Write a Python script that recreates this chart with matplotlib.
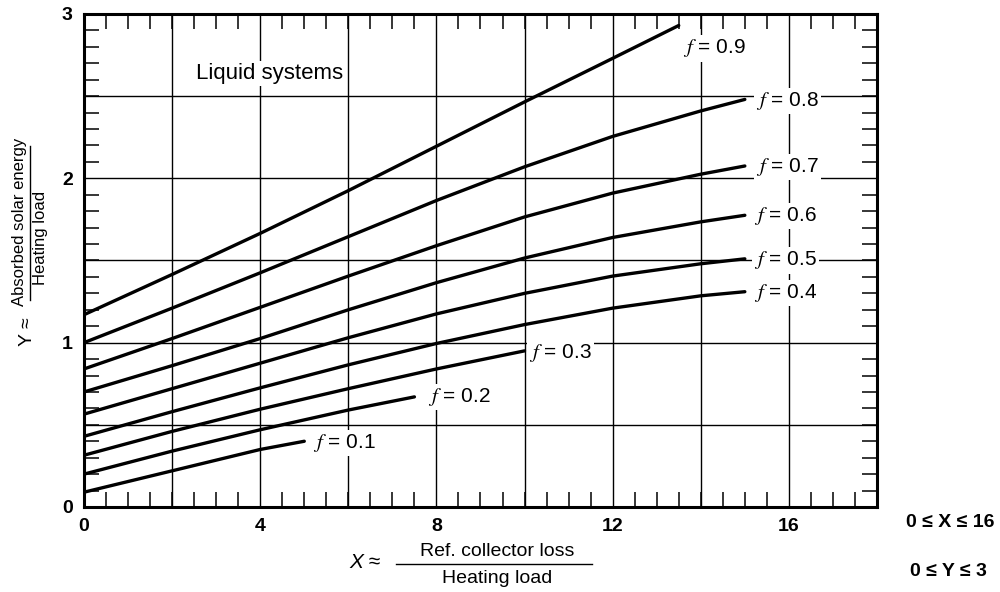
import matplotlib
matplotlib.use("Agg")
import matplotlib.pyplot as plt
from matplotlib.lines import Line2D
from matplotlib.ticker import MultipleLocator

plt.rcParams['font.family'] = ['Liberation Sans', 'DejaVu Sans']
plt.rcParams['mathtext.fontset'] = 'stix'

# Curvas f-chart (sistemas líquidos)
x_long = [0, 2, 4, 6, 8, 10, 12, 14, 15]
x_09 = [0, 2, 4, 6, 8, 10, 12, 13.5]
x_03 = [0, 2, 4, 6, 8, 10]
x_02 = [0, 2, 4, 6, 7.5]
x_01 = [0, 2, 4, 5]

y_09 = [1.17, 1.415, 1.665, 1.925, 2.195, 2.465, 2.73, 2.93]
y_08 = [1.00, 1.21, 1.425, 1.645, 1.865, 2.07, 2.255, 2.41, 2.48]
y_07 = [0.84, 1.025, 1.215, 1.405, 1.59, 1.765, 1.91, 2.025, 2.075]
y_06 = [0.70, 0.86, 1.025, 1.20, 1.365, 1.515, 1.64, 1.735, 1.775]
y_05 = [0.565, 0.72, 0.875, 1.03, 1.175, 1.30, 1.405, 1.48, 1.51]
y_04 = [0.43, 0.58, 0.725, 0.865, 0.995, 1.11, 1.21, 1.285, 1.31]
y_03 = [0.315, 0.46, 0.595, 0.72, 0.84, 0.95]
y_02 = [0.20, 0.34, 0.47, 0.59, 0.67]
y_01 = [0.09, 0.22, 0.35, 0.40]

curves = [
    ('0.9', x_09, y_09, (13.6, 2.79)),
    ('0.8', x_long, y_08, (15.25, 2.47)),
    ('0.7', x_long, y_07, (15.25, 2.07)),
    ('0.6', x_long, y_06, (15.2, 1.77)),
    ('0.5', x_long, y_05, (15.2, 1.50)),
    ('0.4', x_long, y_04, (15.2, 1.30)),
    ('0.3', x_03, y_03, (10.1, 0.94)),
    ('0.2', x_02, y_02, (7.8, 0.67)),
    ('0.1', x_01, y_01, (5.2, 0.39)),
]

fig = plt.figure(figsize=(10, 5.92), dpi=100)
ax = fig.add_axes([0.084, 0.1436, 0.793, 0.8328])

ax.set_xlim(0, 18)
ax.set_ylim(0, 3)

# rejilla
for gx in range(2, 17, 2):
    ax.axvline(gx, color='black', lw=1.0, zorder=1)
for gy in [0.5, 1.0, 1.5, 2.0, 2.5]:
    ax.axhline(gy, color='black', lw=1.0, zorder=1)

for name, xs, ys, (lx, ly) in curves:
    ax.plot(xs, ys, color='black', lw=2.4, zorder=3, solid_capstyle='round',
            solid_joinstyle='round')
    ax.text(lx, ly, r'$f$ = ' + name, fontsize=15, va='center', ha='left',
            zorder=4, bbox=dict(facecolor='white', edgecolor='none', pad=1.5))

ax.text(2.55, 2.64, 'Liquid systems', fontsize=16, va='center', ha='left',
        zorder=4, bbox=dict(facecolor='white', edgecolor='none', pad=1.5))

ax.xaxis.set_minor_locator(MultipleLocator(0.5))
ax.yaxis.set_major_locator(MultipleLocator(1))
ax.yaxis.set_minor_locator(MultipleLocator(0.1))
ax.set_xticks([0, 4, 8, 12, 16])
ax.tick_params(which='minor', direction='in', length=11, width=1.1,
               top=True, right=True, bottom=True, left=True)
ax.tick_params(which='major', length=0, labelsize=14, pad=8)
for lab in ax.get_xticklabels() + ax.get_yticklabels():
    lab.set_fontweight('bold')

for s in ax.spines.values():
    s.set_linewidth(2.2)

# etiqueta eje Y
fig.text(0.020, 0.625, 'Absorbed solar energy', rotation=90, fontsize=12,
         ha='center', va='center')
fig.add_artist(Line2D([0.030, 0.030], [1 - 300 / 592, 1 - 146 / 592],
                      color='black', lw=1.0))
fig.text(0.041, 0.598, 'Heating load', rotation=90, fontsize=12,
         ha='center', va='center')
fig.text(0.027, 0.440, 'Y ≈', rotation=90, fontsize=14,
         ha='center', va='center')

# etiqueta eje X
fig.text(0.365, 0.049, 'X ≈', fontsize=15, style='italic',
         ha='center', va='center')
fig.text(0.497, 0.068, 'Ref. collector loss', fontsize=14,
         ha='center', va='center')
fig.add_artist(Line2D([0.396, 0.592], [0.047, 0.047], color='black', lw=1.0))
fig.text(0.497, 0.023, 'Heating load', fontsize=14,
         ha='center', va='center')

fig.text(0.95, 0.118, '0 ≤ X ≤ 16', fontsize=14, fontweight='bold',
         ha='center', va='center')
fig.text(0.948, 0.034, '0 ≤ Y ≤ 3', fontsize=14, fontweight='bold',
         ha='center', va='center')

fig.savefig('out.png', dpi=100)
